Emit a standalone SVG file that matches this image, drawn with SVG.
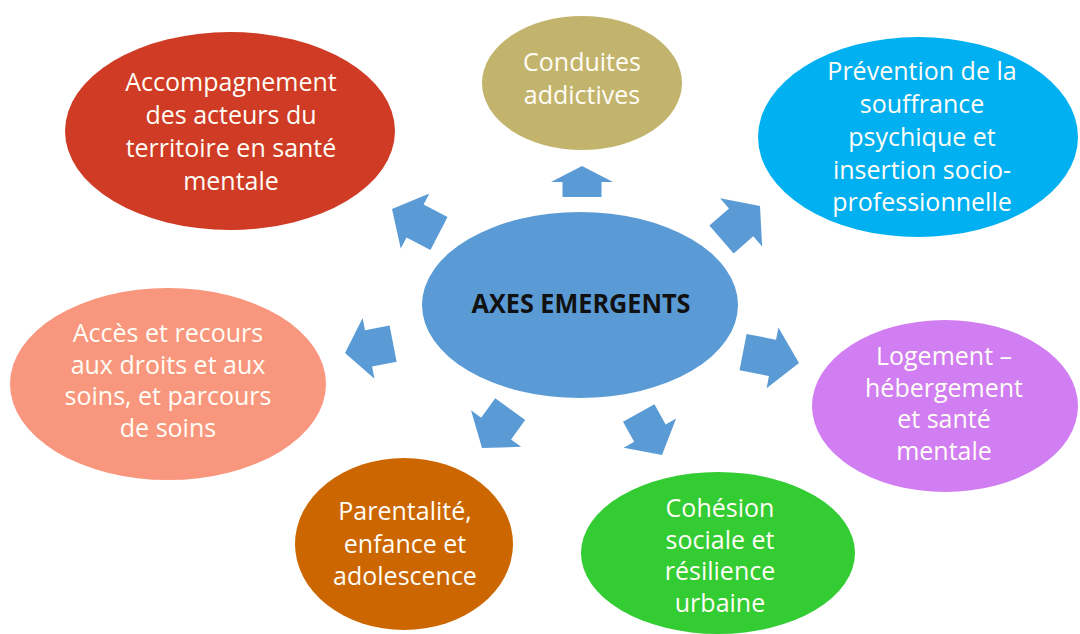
<svg xmlns="http://www.w3.org/2000/svg" width="1080" height="634" viewBox="0 0 1080 634">
  <style>
    .lbl { font-family: "Open Sans", "Liberation Sans", sans-serif; font-size: 25px; fill: #FFFDF6; text-anchor: middle; }
    .hub { font-family: "Open Sans", "Liberation Sans", sans-serif; font-size: 27px; font-weight: bold; fill: #111111; text-anchor: middle; }
    .arrow { fill: #5B9BD5; }
  </style>
  <rect width="1080" height="634" fill="#FFFFFF"/>

  <!-- block arrows radiating from the hub -->
  <g id="connectors">
    <path class="arrow" transform="translate(392,209) rotate(207.5)" d="M0,0 L-26,-31 L-26,-18.5 L-53,-18.5 L-53,18.5 L-26,18.5 L-26,31 Z"/>
    <path class="arrow" transform="translate(582,166) rotate(-90)" d="M0,0 L-16,-31 L-16,-19.5 L-31,-19.5 L-31,19.5 L-16,19.5 L-16,31 Z"/>
    <path class="arrow" transform="translate(760,206) rotate(-41)" d="M0,0 L-25,-32 L-25,-18.5 L-51,-18.5 L-51,18.5 L-25,18.5 L-25,32 Z"/>
    <path class="arrow" transform="translate(799,363) rotate(11)" d="M0,0 L-27,-31 L-27,-18.5 L-57,-18.5 L-57,18.5 L-27,18.5 L-27,31 Z"/>
    <path class="arrow" transform="translate(662,455) rotate(61)" d="M0,0 L-25,-30 L-25,-18 L-48,-18 L-48,18 L-25,18 L-25,30 Z"/>
    <path class="arrow" transform="translate(482,448) rotate(126)" d="M0,0 L-24,-31 L-24,-18.5 L-48,-18.5 L-48,18.5 L-24,18.5 L-24,31 Z"/>
    <path class="arrow" transform="translate(345,353) rotate(169)" d="M0,0 L-24,-31 L-24,-18.5 L-49,-18.5 L-49,18.5 L-24,18.5 L-24,31 Z"/>
  </g>

  <g id="hub">
    <ellipse cx="580" cy="305" rx="158" ry="93" fill="#5B9BD5"/>
    <text class="hub" x="581" y="313" textLength="219" lengthAdjust="spacingAndGlyphs">AXES EMERGENTS</text>
  </g>

  <g id="accompagnement">
    <ellipse cx="230" cy="131" rx="165" ry="99" fill="#CF3B24"/>
    <text class="lbl" x="231" y="91">Accompagnement</text>
    <text class="lbl" x="231" y="124">des acteurs du</text>
    <text class="lbl" x="231" y="157">territoire en santé</text>
    <text class="lbl" x="231" y="190">mentale</text>
  </g>

  <g id="conduites">
    <ellipse cx="582" cy="83" rx="100" ry="67" fill="#C3B46D"/>
    <text class="lbl" x="582" y="71">Conduites</text>
    <text class="lbl" x="582" y="104">addictives</text>
  </g>

  <g id="prevention">
    <ellipse cx="918" cy="137" rx="160" ry="100" fill="#00B0F0"/>
    <text class="lbl" x="922" y="80">Prévention de la</text>
    <text class="lbl" x="922" y="113">souffrance</text>
    <text class="lbl" x="922" y="146">psychique et</text>
    <text class="lbl" x="922" y="179">insertion socio-</text>
    <text class="lbl" x="922" y="211">professionnelle</text>
  </g>

  <g id="logement">
    <ellipse cx="945" cy="406" rx="133" ry="86" fill="#D07EF2"/>
    <text class="lbl" x="944" y="365">Logement –</text>
    <text class="lbl" x="944" y="397">hébergement</text>
    <text class="lbl" x="944" y="428">et santé</text>
    <text class="lbl" x="944" y="460">mentale</text>
  </g>

  <g id="cohesion">
    <ellipse cx="718" cy="553" rx="137" ry="81" fill="#33CC33"/>
    <text class="lbl" x="720" y="517">Cohésion</text>
    <text class="lbl" x="720" y="549">sociale et</text>
    <text class="lbl" x="720" y="580">résilience</text>
    <text class="lbl" x="720" y="612">urbaine</text>
  </g>

  <g id="parentalite">
    <ellipse cx="404" cy="544" rx="109" ry="86" fill="#CC6600"/>
    <text class="lbl" x="405" y="520">Parentalité,</text>
    <text class="lbl" x="405" y="553">enfance et</text>
    <text class="lbl" x="405" y="585">adolescence</text>
  </g>

  <g id="acces">
    <ellipse cx="168" cy="384" rx="158" ry="96" fill="#F8977D"/>
    <text class="lbl" x="168" y="342">Accès et recours</text>
    <text class="lbl" x="168" y="374">aux droits et aux</text>
    <text class="lbl" x="168" y="405">soins, et parcours</text>
    <text class="lbl" x="168" y="437">de soins</text>
  </g>
</svg>
